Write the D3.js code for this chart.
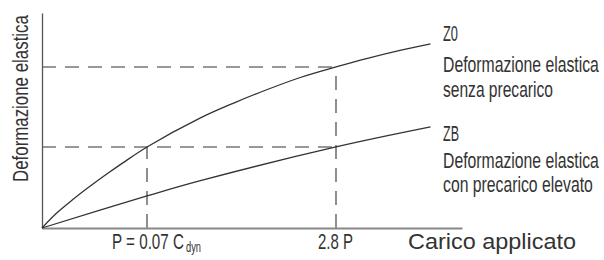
<!DOCTYPE html>
<html>
<head>
<meta charset="utf-8">
<script src="https://cdn.jsdelivr.net/npm/d3@7"></script>
<style>
  html, body { margin: 0; padding: 0; background: #fff; }
  svg { display: block; }
  text { font-family: "Liberation Sans", Arimo, sans-serif; fill: #333; }
</style>
</head>
<body>
<svg id="chart" width="604" height="260"></svg>
<script>
// Load in units of P (x) and relative elastic deformation (y, 0..100)
const z0Load = [0, 0.15, 0.3, 0.46, 0.62, 0.77, 1.0, 1.5, 1.82, 2.14, 2.46, 2.8, 3.1, 3.41, 3.7];
const z0Def  = [0, 7.4, 13.5, 19.5, 25.2, 30.3, 37.7, 51.0, 58.0, 64.3, 70.0, 74.9, 78.9, 82.6, 85.6];
const zbLoad = [0, 1.0, 1.5, 2.8, 3.7];
const zbDef  = [0, 14.9, 21.9, 37.7, 47.0];
const refLoads = [1.0, 2.8];              // dashed guide positions
const refZ0 = [37.7, 74.9];                // Z0 at P and 2.8 P
const xTickLabels = [["P = 0.07 C", "dyn"], ["2.8 P", ""]];
const seriesLabels = [
  ["Z0", "Deformazione elastica", "senza precarico"],
  ["ZB", "Deformazione elastica", "con precarico elevato"]
];
const xTitle = "Carico applicato";
const yTitle = "Deformazione elastica";

// layout (pixels)
const seriesLabelBaselines = [[41, 72, 97], [141, 168, 192]];
const seriesLabelWidths = [[15, 156, 110], [16, 156, 150]];

const svg = d3.select("#chart");
const x = d3.scaleLinear().domain([0, 4]).range([42, 462]);
const y = d3.scaleLinear().domain([0, 100]).range([228, 13]);

// dashed guides
const guides = svg.append("g").attr("fill", "none").attr("stroke", "#333")
  .attr("stroke-width", 1.1).attr("stroke-dasharray", "14,9");
refLoads.forEach((l, i) => {
  guides.append("line").attr("x1", x(0)).attr("x2", x(refLoads[1]))
    .attr("y1", y(refZ0[i])).attr("y2", y(refZ0[i]));
  guides.append("line").attr("x1", x(l)).attr("x2", x(l))
    .attr("y1", y(0)).attr("y2", y(refZ0[i]));
});

// axes
const xAxis = svg.append("g").attr("transform", `translate(0,${y(0)})`)
  .call(d3.axisBottom(x).tickValues([]).tickSizeOuter(0));
xAxis.select(".domain").attr("stroke", "#888").attr("stroke-width", 2);
const yAxis = svg.append("g").attr("transform", `translate(${x(0)},0)`)
  .call(d3.axisLeft(y).tickValues([]).tickSizeOuter(0));
yAxis.select(".domain").attr("stroke", "#555").attr("stroke-width", 1.3);

// curves
const line = d3.line().x(d => x(d[0])).y(d => y(d[1])).curve(d3.curveCatmullRom.alpha(0.5));
const z0 = z0Load.map((l, i) => [l, z0Def[i]]);
const zb = zbLoad.map((l, i) => [l, zbDef[i]]);
[z0, zb].forEach(s => {
  svg.append("path").datum(s).attr("d", line)
    .attr("fill", "none").attr("stroke", "#333").attr("stroke-width", 1.3);
});

// condensed text: natural text, squeezed horizontally to a target width
function condensed(str, size, width, tx, ty, rot) {
  const t = svg.append("text").attr("x", 0).attr("y", 0).attr("font-size", size).text(str);
  const w = t.node().getComputedTextLength();
  const s = width / w;
  t.attr("transform", `translate(${tx},${ty})` + (rot ? ` rotate(${rot})` : "") + ` scale(${s},1)`);
  return t;
}

const fs = 22;
// x tick labels
condensed(xTickLabels[0][0], fs, 72, 112, 249);
condensed(xTickLabels[0][1], 14, 15, 186, 252);
condensed(xTickLabels[1][0], fs, 35, x(refLoads[1]) - 18, 249);

// axis titles
condensed(xTitle, fs, 168, 408, 249);
condensed(yTitle, fs, 167, 28, 182, -90);

// series labels
seriesLabels.forEach((lines, i) => {
  lines.forEach((s, j) => {
    condensed(s, fs, seriesLabelWidths[i][j], 443, seriesLabelBaselines[i][j]);
  });
});
</script>
</body>
</html>
